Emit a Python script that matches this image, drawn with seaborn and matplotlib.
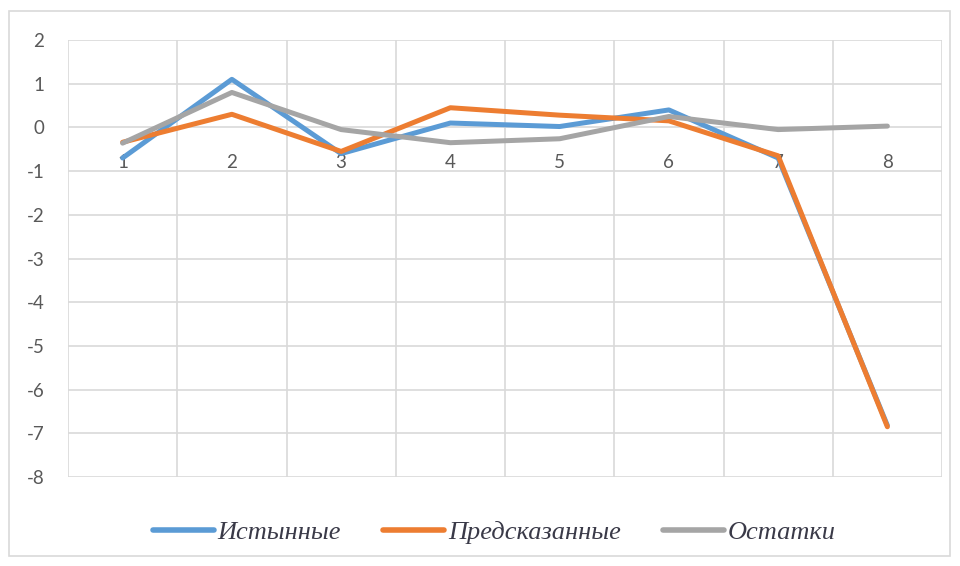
import numpy as np
import pandas as pd
import matplotlib.pyplot as plt
import seaborn as sns
from matplotlib.patches import Rectangle
from matplotlib.font_manager import FontProperties

# данные графика
categories = [1, 2, 3, 4, 5, 6, 7, 8]
true_vals = [-0.70, 1.10, -0.60, 0.10, 0.02, 0.40, -0.70, -6.82]
pred_vals = [-0.34, 0.30, -0.55, 0.45, 0.28, 0.15, -0.65, -6.85]
resid_vals = [-0.36, 0.80, -0.05, -0.35, -0.26, 0.25, -0.05, 0.03]
series_names = ['Истынные', 'Предсказанные', 'Остатки']
colors = ['#5B9BD5', '#ED7D31', '#A5A5A5']
y_ticks = list(range(-8, 3))

df = pd.DataFrame({
    'x': categories * 3,
    'y': true_vals + pred_vals + resid_vals,
    'series': np.repeat(series_names, len(categories)),
})

sns.set_style('white')
plt.rcParams['font.family'] = ['Lato', 'DejaVu Sans']
plt.rcParams['axes.unicode_minus'] = False

fig = plt.figure(figsize=(9.6, 5.66), dpi=100)
ax = fig.add_axes([68/960, 1 - 477/566, (942 - 68)/960, (477 - 40)/566])

sns.lineplot(data=df, x='x', y='y', hue='series', palette=colors,
             linewidth=3.6, ax=ax, sort=False, legend=True)

ax.set_xlim(0.5, 8.5)
ax.set_ylim(-8, 2)
ax.set_yticks(y_ticks)
ax.set_xticks(categories)
ax.set_xticklabels([str(c) for c in categories])
ax.set_xticks(np.arange(0.5, 9, 1), minor=True)
ax.set_xlabel('')
ax.set_ylabel('')

# сетка
ax.grid(which='major', axis='y', color='#D9D9D9', lw=1.2)
ax.grid(which='minor', axis='x', color='#D9D9D9', lw=1.2)
ax.set_axisbelow(True)

# ось категорий проходит через 0
for s in ['left', 'right', 'top']:
    ax.spines[s].set_visible(False)
ax.spines['bottom'].set_position(('data', 0))
ax.spines['bottom'].set_visible(False)
ax.tick_params(axis='x', which='both', length=0, pad=19, labelsize=13.5, labelcolor='#595959')
ax.tick_params(axis='y', length=0, pad=17, labelsize=13.5, labelcolor='#595959')

# легенда
handles, labels = ax.get_legend_handles_labels()
for h in handles:
    h.set_linewidth(4)
ax.get_legend().remove()
fig.legend(handles, labels, loc='center', bbox_to_anchor=(0.515, 0.06), ncol=3,
           frameon=False, handlelength=2.3, handletextpad=0.15, columnspacing=1.6,
           prop=FontProperties(family='Liberation Serif', style='italic', size=19),
           labelcolor='#3a3a48')

# рамка вокруг диаграммы
fig.patches.append(Rectangle((9/960, 10/566), 941/960, 545/566, transform=fig.transFigure,
                             fill=False, edgecolor='#D9D9D9', lw=1.2))

plt.savefig('out.png', dpi=100)
